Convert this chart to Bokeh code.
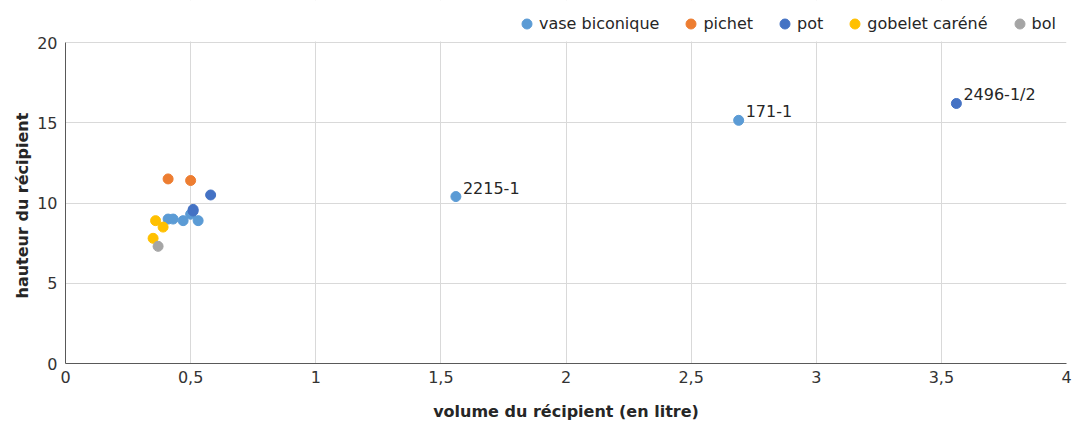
from bokeh.plotting import figure
from bokeh.models import (FixedTicker, CustomJSTickFormatter, Legend, LegendItem, Range1d,
                          ColumnDataSource, BoxAnnotation, Title)
from bokeh.core.properties import value
from bokeh.embed import file_html
from bokeh.resources import INLINE

FONT = "DejaVu Sans"

series_names = ["vase biconique", "pichet", "pot", "gobelet caréné", "bol"]
series_colors = ["#5B9BD5", "#ED7D31", "#4472C4", "#FFC000", "#A5A5A5"]

vase_x = [0.41, 0.43, 0.47, 0.50, 0.53, 1.56, 2.69]
vase_y = [9.0, 9.0, 8.9, 9.3, 8.9, 10.4, 15.15]
pichet_x = [0.41, 0.50]
pichet_y = [11.5, 11.4]
pot_x = [0.51, 0.51, 0.58, 3.56]
pot_y = [9.6, 9.5, 10.5, 16.2]
gobelet_x = [0.36, 0.39, 0.35]
gobelet_y = [8.9, 8.5, 7.8]
bol_x = [0.37]
bol_y = [7.3]

label_text = ["2215-1", "171-1", "2496-1/2"]
label_x = [1.56, 2.69, 3.56]
label_y = [10.4, 15.15, 16.2]

x_title = "volume du récipient (en litre)"
y_title = "hauteur du récipient"

x_ticks = [0, 0.5, 1, 1.5, 2, 2.5, 3, 3.5, 4]
y_ticks = [0, 5, 10, 15, 20]
x_min, x_max = 0, 4
y_min, y_max = 0, 20

# layout (pixels)
W, H = 1072, 425
BORDER_L, BORDER_R, BORDER_B = 65, 6, 62
PLOT_TOP = 42                    # where y_max sits, measured from the top
FRAME_H = H - BORDER_B           # frame spans the whole height above the x axis
px_per_unit = (FRAME_H - PLOT_TOP) / (y_max - y_min)
y_top = y_max + PLOT_TOP / px_per_unit   # extra room above the plot for the legend

p = figure(width=W, height=H, output_backend="svg", toolbar_location=None,
           x_range=Range1d(x_min, x_max), y_range=Range1d(y_min, y_top),
           min_border_left=BORDER_L, min_border_right=BORDER_R, min_border_top=0,
           min_border_bottom=BORDER_B)
p.outline_line_color = None
p.background_fill_color = "white"
p.border_fill_color = "white"

p.xgrid.ticker = FixedTicker(ticks=x_ticks)
p.ygrid.ticker = FixedTicker(ticks=y_ticks)
p.grid.grid_line_color = "#D9D9D9"

# white mask above the plotting area (hides the grid lines there)
mask = BoxAnnotation(bottom=y_max + 1.0 / px_per_unit, fill_color="white", fill_alpha=1,
                     line_color=None, level="underlay")
p.add_layout(mask)

all_series = [(vase_x, vase_y), (pichet_x, pichet_y), (pot_x, pot_y), (gobelet_x, gobelet_y), (bol_x, bol_y)]
renderers = []
for (xs, ys), name, col in zip(all_series, series_names, series_colors):
    r = p.scatter(xs, ys, size=10, marker="circle", fill_color=col, line_color=col)
    renderers.append(r)

src = ColumnDataSource(dict(x=label_x, y=label_y, t=label_text))
p.text(x="x", y="y", text="t", source=src, x_offset=7, y_offset=-9,
       text_font=value(FONT), text_font_size="16px", text_color="#262626",
       text_baseline="middle", text_align="left")

for ax in (p.xaxis[0], p.yaxis[0]):
    ax.axis_line_color = "#595959"
    ax.axis_line_width = 1
    ax.major_tick_line_color = None
    ax.minor_tick_line_color = None
    ax.major_tick_out = 0
    ax.major_tick_in = 0
    ax.minor_tick_out = 0
    ax.minor_tick_in = 0
    ax.major_label_text_font = FONT
    ax.major_label_text_font_size = "16px"
    ax.major_label_text_color = "#333333"
    ax.axis_label_text_font = FONT
    ax.axis_label_text_font_size = "16px"
    ax.axis_label_text_font_style = "bold"
    ax.axis_label_text_color = "#262626"

p.yaxis.bounds = (y_min, y_max)
p.xaxis.ticker = FixedTicker(ticks=x_ticks)
p.yaxis.ticker = FixedTicker(ticks=y_ticks)
p.xaxis.formatter = CustomJSTickFormatter(code="return tick.toString().replace('.', ',');")
p.xaxis.major_label_standoff = 7
p.yaxis.major_label_standoff = 8
p.xaxis.axis_label = x_title
p.xaxis.axis_label_standoff = 16

# y title: placed as a side title so that it is centred on the 0-20 span
y_label = Title(text=y_title, align="left", offset=65, standoff=5,
                text_font=FONT, text_font_size="16px", text_font_style="bold",
                text_color="#262626")
p.add_layout(y_label, "left")

legend = Legend(items=[LegendItem(label=n, renderers=[r]) for n, r in zip(series_names, renderers)],
                orientation="horizontal", location=(449, FRAME_H - 24 - 12),
                glyph_width=25, glyph_height=25, label_standoff=0, spacing=19,
                padding=0, margin=0, border_line_color=None, background_fill_alpha=0,
                label_text_font=FONT, label_text_font_size="16px", label_text_color="#262626")
p.add_layout(legend, "center")

open("out.html", "w").write(file_html(p, INLINE))
